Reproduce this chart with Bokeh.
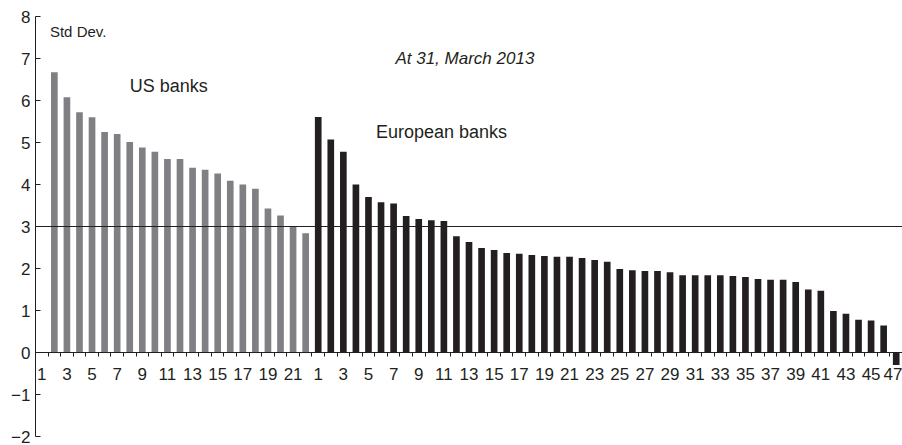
import math
from bokeh.plotting import figure
from bokeh.models import Range1d, FixedTicker, LinearAxis, Span, Label
from bokeh.embed import file_html
from bokeh.resources import INLINE

# ---- data ----
us_labels = [str(i) for i in range(1, 23)]
us_values = [float("nan"), 6.67, 6.08, 5.72, 5.60, 5.25, 5.20, 5.01, 4.88, 4.78, 4.61,
             4.61, 4.40, 4.35, 4.26, 4.09, 4.00, 3.90, 3.43, 3.26, 2.99, 2.84]
eu_labels = [str(i) for i in range(1, 48)]
eu_values = [5.61, 5.07, 4.78, 4.00, 3.70, 3.58, 3.55, 3.25, 3.18, 3.15, 3.13,
             2.77, 2.63, 2.49, 2.44, 2.37, 2.35, 2.32, 2.30, 2.28, 2.28, 2.25,
             2.20, 2.16, 1.99, 1.96, 1.94, 1.94, 1.91, 1.84, 1.84, 1.84, 1.84,
             1.82, 1.80, 1.75, 1.73, 1.73, 1.68, 1.50, 1.47, 0.99, 0.92, 0.78,
             0.76, 0.64, -0.30]
threshold = 3
y_ticks = [-2, -1, 0, 1, 2, 3, 4, 5, 6, 7, 8]

FONT = "Liberation Sans"
INK = "#231f20"
GRAY = "#808084"

n_us = len(us_labels)
n_eu = len(eu_labels)
us_x = list(range(1, n_us + 1))
eu_x = list(range(n_us + 1, n_us + n_eu + 1))
all_labels = us_labels + eu_labels
all_x = us_x + eu_x

p = figure(width=902, height=445, output_backend="svg", toolbar_location=None,
           x_range=Range1d(0.5, len(all_x) + 0.5), y_range=Range1d(y_ticks[0], y_ticks[-1]),
           x_axis_location=None, min_border_left=35, min_border_right=0,
           min_border_top=16, min_border_bottom=9)
p.outline_line_color = None
p.xgrid.visible = False
p.ygrid.visible = False
p.background_fill_color = "white"
p.border_fill_color = "white"

p.vbar(x=us_x, top=us_values, width=0.53, fill_color=GRAY, line_color=None)
p.vbar(x=eu_x, top=eu_values, width=0.53, fill_color=INK, line_color=None)

p.add_layout(Span(location=threshold, dimension="width", line_color=INK, line_width=1))

# y axis
ya = p.yaxis[0]
ya.ticker = FixedTicker(ticks=y_ticks, minor_ticks=[])
ya.major_label_overrides = {t: ("\u2212" + str(-t) if t < 0 else str(t)) for t in y_ticks}
ya.major_tick_in = 5
ya.major_tick_out = 0
ya.minor_tick_line_color = None
ya.axis_line_color = INK
ya.major_tick_line_color = INK
ya.major_label_text_font = FONT
ya.major_label_text_font_size = "17px"
ya.major_label_text_color = INK
ya.major_label_standoff = 5

# x axis: tick marks at category boundaries
xa_ticks = LinearAxis(fixed_location=0,
                      ticker=FixedTicker(ticks=[x + 0.5 for x in all_x[:-1]], minor_ticks=[]),
                      major_tick_in=0, major_tick_out=4,
                      axis_line_color=INK, major_tick_line_color=INK,
                      major_label_text_color=None, minor_tick_line_color=None)
p.add_layout(xa_ticks, "below")

# x axis: labels at odd categories
odd_x = [x for x, lab in zip(all_x, all_labels) if int(lab) % 2 == 1]
xa_labels = LinearAxis(fixed_location=0,
                       ticker=FixedTicker(ticks=odd_x, minor_ticks=[]),
                       major_label_overrides={x: lab for x, lab in zip(all_x, all_labels)},
                       major_tick_line_color=None, axis_line_color=None,
                       minor_tick_line_color=None,
                       major_label_text_font=FONT, major_label_text_font_size="17px",
                       major_label_text_color=INK, major_label_standoff=9)
p.add_layout(xa_labels, "below")

# annotations
p.add_layout(Label(x=1.65, y=7.64, text="Std Dev.", text_font=FONT, text_font_size="15px",
                   text_color=INK, text_baseline="alphabetic"))
p.add_layout(Label(x=8.0, y=6.35, text="US banks", text_font=FONT, text_font_size="18px",
                   text_color=INK, text_baseline="alphabetic"))
p.add_layout(Label(x=27.6, y=5.26, text="European banks", text_font=FONT, text_font_size="18px",
                   text_color=INK, text_baseline="alphabetic"))
p.add_layout(Label(x=40.2, y=7.01, text="At 31, March 2013", text_font=FONT, text_font_size="17px",
                   text_font_style="italic", text_color=INK, text_baseline="alphabetic",
                   text_align="right"))

open("out.html", "w").write(file_html(p, INLINE))
